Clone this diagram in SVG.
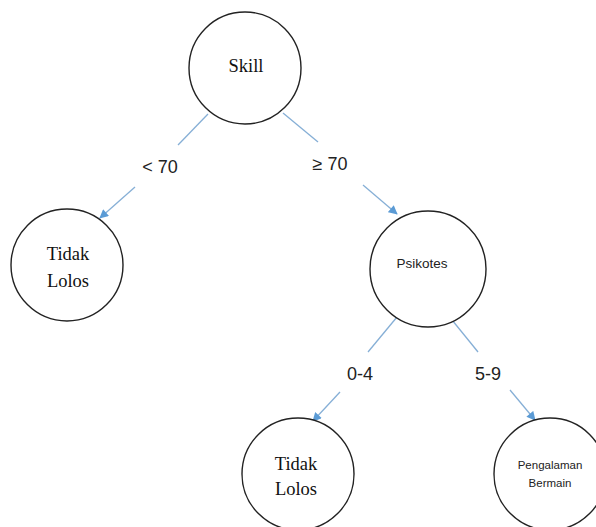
<svg xmlns="http://www.w3.org/2000/svg" width="596" height="527" viewBox="0 0 596 527">
<defs>
<marker id="ah" viewBox="0 0 10 10" refX="9" refY="5" markerWidth="10" markerHeight="9" markerUnits="userSpaceOnUse" orient="auto">
<path d="M0,0 L10,5 L0,10 z" fill="#5B9BD5"/>
</marker>
<style>
.node{fill:#fff;stroke:#222;stroke-width:1.4}
.serif{font-family:"Liberation Serif","Times New Roman",serif;fill:#111;text-anchor:middle}
.sans{font-family:"Liberation Sans",Arial,sans-serif;fill:#222;text-anchor:middle}
.conn{stroke:#86AFD6;stroke-width:1.3;fill:none}
.arr{marker-end:url(#ah)}
</style>
</defs>
<rect width="596" height="527" fill="#fff"/>
<g id="connectors">
<line class="conn" x1="208" y1="114" x2="178" y2="145"/>
<line class="conn arr" x1="135" y1="187" x2="100" y2="218"/>
<line class="conn" x1="283" y1="113" x2="318" y2="142"/>
<line class="conn arr" x1="363" y1="185" x2="397" y2="214"/>
<line class="conn" x1="397" y1="317" x2="368" y2="352"/>
<line class="conn arr" x1="340" y1="392" x2="313" y2="421"/>
<line class="conn" x1="448" y1="315" x2="478" y2="352"/>
<line class="conn arr" x1="510" y1="390" x2="535" y2="420"/>
<text class="sans" x="160" y="173" font-size="18">&lt; 70</text>
<text class="sans" x="330" y="170" font-size="18">≥ 70</text>
<text class="sans" x="360" y="380" font-size="18">0-4</text>
<text class="sans" x="488" y="380" font-size="18">5-9</text>
</g>
<g id="skill">
<circle class="node" cx="245" cy="68" r="56"/>
<text class="serif" x="246" y="72" font-size="18.5">Skill</text>
</g>
<g id="tidak-lolos-1">
<circle class="node" cx="67" cy="265" r="56"/>
<text class="serif" x="68" y="260" font-size="18.5">Tidak</text>
<text class="serif" x="68" y="287" font-size="18.5">Lolos</text>
</g>
<g id="psikotes">
<circle class="node" cx="428" cy="269" r="58"/>
<text class="sans" x="422" y="268" font-size="13.5">Psikotes</text>
</g>
<g id="tidak-lolos-2">
<circle class="node" cx="298" cy="474" r="56"/>
<text class="serif" x="296" y="470" font-size="18.5">Tidak</text>
<text class="serif" x="296" y="495" font-size="18.5">Lolos</text>
</g>
<g id="pengalaman-bermain">
<circle class="node" cx="550" cy="474" r="56"/>
<text class="sans" x="550" y="469" font-size="11.5">Pengalaman</text>
<text class="sans" x="550" y="487" font-size="11.5">Bermain</text>
</g>
</svg>
